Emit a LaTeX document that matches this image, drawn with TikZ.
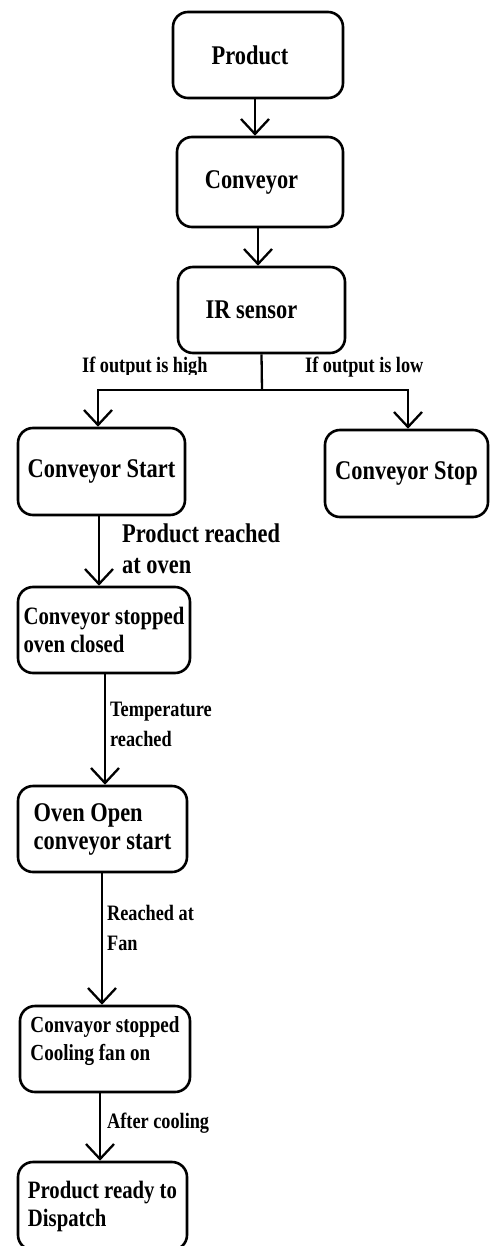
\documentclass[tikz,border=0pt]{standalone}
\usepackage{fontspec}
\setmainfont{Liberation Serif}[FakeStretch=0.83]
\usetikzlibrary{arrows.meta}

\begin{document}
\begin{tikzpicture}[x=1pt,y=-1pt,
  box/.style={draw, line width=2.6pt, rounded corners=15pt, inner sep=0pt,
    align=center, font=\fontsize{27}{28}\selectfont\bfseries},
  multibox/.style={box, align=left},
  lbl/.style={inner sep=0pt, align=left, font=\fontsize{22}{30}\selectfont\bfseries},
  biglbl/.style={inner sep=0pt, align=left, font=\fontsize{27}{31}\selectfont\bfseries},
  arr/.style={line width=2.3pt, -{Straight Barb[length=15pt,width=28pt]}},
  wire/.style={line width=2.3pt}
]
\useasboundingbox (0,0) rectangle (491,1246);

% process boxes (the top three carry their text a little left of centre)
\node[box, minimum width=170pt, minimum height=86pt] (prod) at (258,55) {Product\hspace*{16pt}};
\node[box, minimum width=166pt, minimum height=90pt] (conv) at (260,182) {Conveyor\hspace*{17pt}};
\node[box, minimum width=167pt, minimum height=86pt] (ir) at (261.5,310) {IR sensor\hspace*{20pt}};
\node[box, minimum width=167pt, minimum height=87pt] (cstart) at (101.5,471.5) {Conveyor Start};
\node[box, minimum width=163pt, minimum height=87pt] (cstop) at (406.5,473.5) {Conveyor Stop};
\node[multibox, minimum width=172pt, minimum height=86pt] (cso) at (104,630)
  {\fontsize{25}{28}\selectfont Conveyor stopped\\\fontsize{25}{28}\selectfont oven closed};
\node[multibox, minimum width=169pt, minimum height=86pt] (oven) at (102.5,829)
  {Oven Open\\conveyor start};
\node[multibox, minimum width=170pt, minimum height=86pt] (fan) at (105,1049)
  {\fontsize{23}{30}\selectfont Convayor stopped\\\fontsize{23}{30}\selectfont Cooling fan on\\[-8pt]};
\node[multibox, minimum width=169pt, minimum height=88pt] (ready) at (102.5,1206)
  {\fontsize{25}{28}\selectfont Product ready to\\\fontsize{25}{28}\selectfont Dispatch};

% straight connectors
\draw[arr] ([xshift=-3pt]prod.south) -- ([xshift=-3pt]prod.south |- conv.north);
\draw[arr] ([xshift=-2pt]conv.south) -- ([xshift=-2pt]conv.south |- ir.north);

% branch below the sensor
\coordinate (split) at (262,390);
\draw[wire] (ir.south) -- (split);
\draw[arr] (split) -| ([xshift=-3.5pt]cstart.north);
\draw[arr] (split) -| ([xshift=1.5pt]cstop.north);

\draw[arr] ([xshift=-2.5pt]cstart.south) -- ([xshift=-2.5pt]cstart.south |- cso.north);
\draw[arr] ([xshift=1pt]cso.south) -- ([xshift=1pt]cso.south |- oven.north);
\draw[arr] ([xshift=-0.5pt]oven.south) -- ([xshift=-0.5pt]oven.south |- fan.north);
\draw[arr] ([xshift=-5pt]fan.south) -- ([xshift=-5pt]fan.south |- ready.north);

% branch conditions
\begin{scope}
  \clip (60,340) rectangle (240,374.5);
  \node[lbl, anchor=base west] (high) at (82,372) {If output is high};
\end{scope}
\node[lbl, anchor=base west] (low) at (305,372) {If output is low};

% transition labels
\node[biglbl, anchor=north west] (l1) at (122,523.5) {Product reached\\at oven};
\node[lbl, anchor=north west] (l2) at (110,702) {Temperature\\reached};
\node[lbl, anchor=north west] (l3) at (107,905) {Reached at\\Fan};
\node[lbl, anchor=base west] (l4) at (107,1128) {After cooling};
\end{tikzpicture}
\end{document}
